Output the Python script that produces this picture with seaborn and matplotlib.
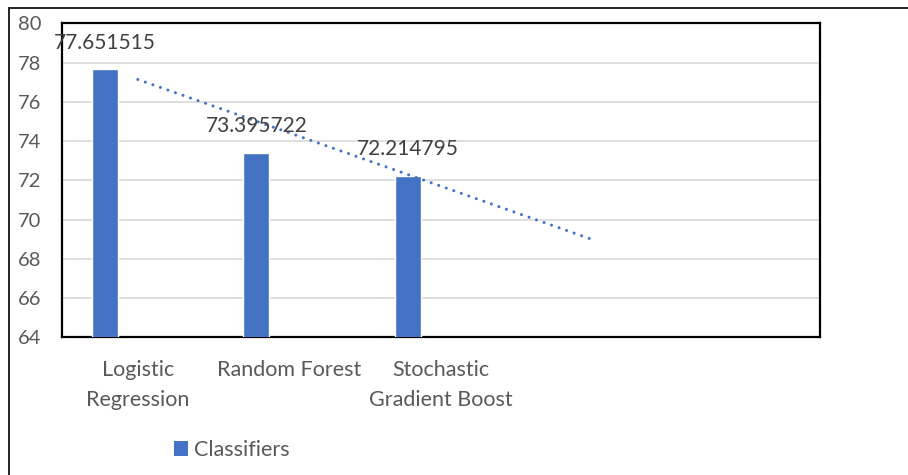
import numpy as np
import pandas as pd
import matplotlib
matplotlib.use("Agg")
import matplotlib.pyplot as plt
from matplotlib.patches import Patch
from matplotlib.lines import Line2D
import seaborn as sns

# Accuracy (%) of each classifier
models = ["Logistic\nRegression", "Random Forest", "Stochastic\nGradient Boost"]
accuracy = [77.651515, 73.395722, 72.214795]
# Two spare category slots keep room on the right of the plot
spare_slots = [" ", "  "]
series_name = "Classifiers"
y_ticks = [64, 66, 68, 70, 72, 74, 76, 78, 80]

BLUE = "#4472C4"
TEXT = "#595959"
LABEL = "#404040"
GRID = "#D9D9D9"

sns.set_theme(style="white")
plt.rcParams["font.family"] = ["Lato", "DejaVu Sans"]

df = pd.DataFrame({"model": models, "accuracy": accuracy, "series": series_name})
order = models + spare_slots
hue_order = [series_name, "series2", "series3"]

fig = plt.figure(figsize=(9.08, 4.75), dpi=100)
ax = fig.add_axes([0.0683, 0.2895, 0.8348, 0.6615])

sns.barplot(data=df, x="model", y="accuracy", hue="series", order=order,
            hue_order=hue_order,
            palette={series_name: BLUE, "series2": "#ED7D31", "series3": "#A5A5A5"},
            width=0.653, gap=0.212, dodge=True, legend=False,
            saturation=1, ax=ax, zorder=3)

# Linear trend line over the category positions, projected one period forward
idx = np.arange(len(accuracy))
slope, intercept = np.polyfit(idx, accuracy, 1)
trend_x = np.arange(len(accuracy) + 1)
trend_y = slope * trend_x + intercept
ax.plot(trend_x, trend_y, color=BLUE, lw=2.2, linestyle=(0, (0.01, 2.6)),
        dash_capstyle="round", zorder=4)

# Value labels above the bars
for bar in ax.patches:
    h = bar.get_height()
    if np.isnan(h) or h == 0:
        continue
    ax.annotate(f"{h:.6f}", (bar.get_x() + bar.get_width() / 2, h),
                xytext=(0, 12), textcoords="offset points",
                ha="center", va="bottom", fontsize=15, color=LABEL, zorder=5)

ax.set_ylim(64, 80)
ax.set_yticks(y_ticks)
ax.set_xlim(-0.5, len(order) - 0.5)
ax.grid(axis="y", color=GRID, lw=1.2, zorder=0)
ax.set_axisbelow(True)
ax.set_xlabel("")
ax.set_ylabel("")
ax.tick_params(axis="y", length=0, pad=15, labelsize=14.5, labelcolor=TEXT)
ax.tick_params(axis="x", length=0, pad=16, labelsize=15.5, labelcolor=TEXT)
for lab in ax.get_xticklabels():
    lab.set_linespacing(1.62)
for sp in ax.spines.values():
    sp.set_visible(True)
    sp.set_color("black")
    sp.set_linewidth(1.6)

# Outer chart frame
fig.add_artist(Line2D([9 / 908, 1.0], [1 - 7.5 / 475] * 2, color="black", lw=1.2,
                      transform=fig.transFigure))
fig.add_artist(Line2D([9 / 908] * 2, [0, 1 - 7.5 / 475], color="black", lw=1.2,
                      transform=fig.transFigure))

fig.legend(handles=[Patch(facecolor=BLUE, edgecolor="none", label=series_name)],
           loc="center", bbox_to_anchor=(232 / 908, 1 - 450 / 475), frameon=False,
           fontsize=15.5, labelcolor=TEXT, handlelength=0.65, handleheight=0.65,
           handletextpad=0.3, borderpad=0)

fig.savefig("out.png", dpi=100)
